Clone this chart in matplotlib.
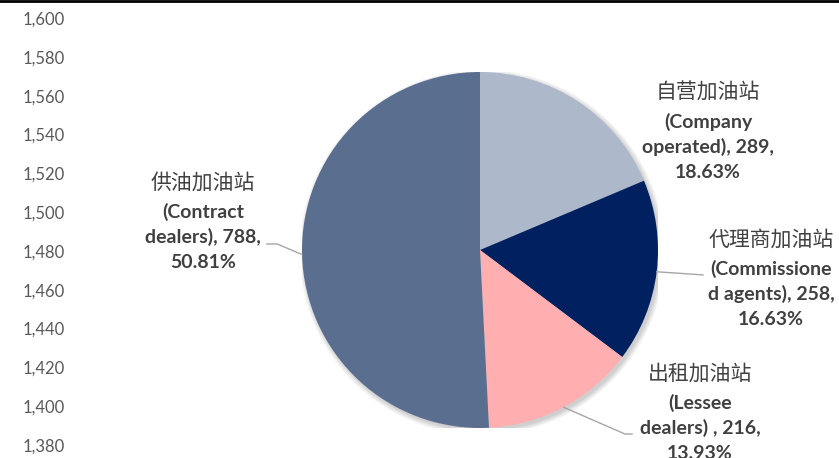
import numpy as np
import matplotlib.pyplot as plt
from matplotlib.lines import Line2D
from matplotlib.patches import Circle

# station counts by operating mode
names_cn = ['自营加油站', '代理商加油站', '出租加油站', '供油加油站']
names_en = [['(Company', 'operated), 289,'], ['(Commissione', 'd agents), 258,'],
            ['(Lessee', 'dealers) , 216,'], ['(Contract', 'dealers), 788,']]
counts = [289, 258, 216, 788]
colors = ['#adb9ca', '#002060', '#ffafaf', '#5a6e8f']

# leftover value axis ticks
yticks = [1380, 1400, 1420, 1440, 1460, 1480, 1500, 1520, 1540, 1560, 1580, 1600]

# label block positions (pie units) and leader line points
label_xy = [(1.281, 0.882), (1.635, 0.056), (1.236, -0.697), (-1.556, 0.376)]
leaders = [None,
           [(1.253, -0.14)],
           [(0.815, -1.034), (0.854, -1.034)],
           [(-1.14, 0.034), (-1.197, 0.034)]]

W, H = 839, 458
R = 178  # pie radius in pixels
fig = plt.figure(figsize=(W / 100, H / 100), dpi=100)

ax = fig.add_axes([70 / W, 13 / H, 60 / W, (440 - 13) / H])
ax.set_ylim(1380, 1600)
ax.set_yticks(yticks)
ax.set_yticklabels([f'{v:,}' for v in yticks], fontsize=12, color='#595959',
                   family=['Lato', 'DejaVu Sans'])
ax.tick_params(axis='y', length=0, pad=4)
ax.set_xticks([])
for s in ax.spines.values():
    s.set_visible(False)
ax.patch.set_alpha(0)

pa = fig.add_axes([302 / W, 30 / H, 356 / W, 356 / H])

# soft drop shadow under the pie
for i in range(8):
    pa.add_patch(Circle((0.012, -0.014), 1 + 0.004 * i, color='k',
                        alpha=0.025, lw=0, zorder=0))

wedges, _ = pa.pie(counts, colors=colors, startangle=90, counterclock=False,
                   radius=1, wedgeprops=dict(linewidth=0))
pa.set_xlim(-1, 1)
pa.set_ylim(-1, 1)
pa.axis('off')
for w in wedges:
    w.set_zorder(2)

total = sum(counts)
for i, w in enumerate(wedges):
    pct = counts[i] / total * 100
    lx, ly = label_xy[i]
    pa.text(lx, ly, names_cn[i], ha='center', va='center', fontsize=15,
            color='#404040', family=['Noto Sans CJK SC'], fontweight='medium')
    lines = names_en[i] + [f'{pct:.2f}%']
    for k, s in enumerate(lines):
        pa.text(lx, ly - (29 + 25 * k) / R, s, ha='center', va='center',
                fontsize=14, color='#404040', family=['Lato', 'DejaVu Sans'],
                fontweight='bold')
    if leaders[i] is not None:
        mid = np.deg2rad((w.theta1 + w.theta2) / 2)
        pts = [(np.cos(mid), np.sin(mid))] + leaders[i]
        xs, ys = zip(*pts)
        pa.add_line(Line2D(xs, ys, color='#a6a6a6', lw=1.0, clip_on=False, zorder=3))

fig.add_artist(Line2D([0, 1], [1 - 1 / H, 1 - 1 / H], color='black', lw=2))

fig.savefig('out.png', dpi=100)
